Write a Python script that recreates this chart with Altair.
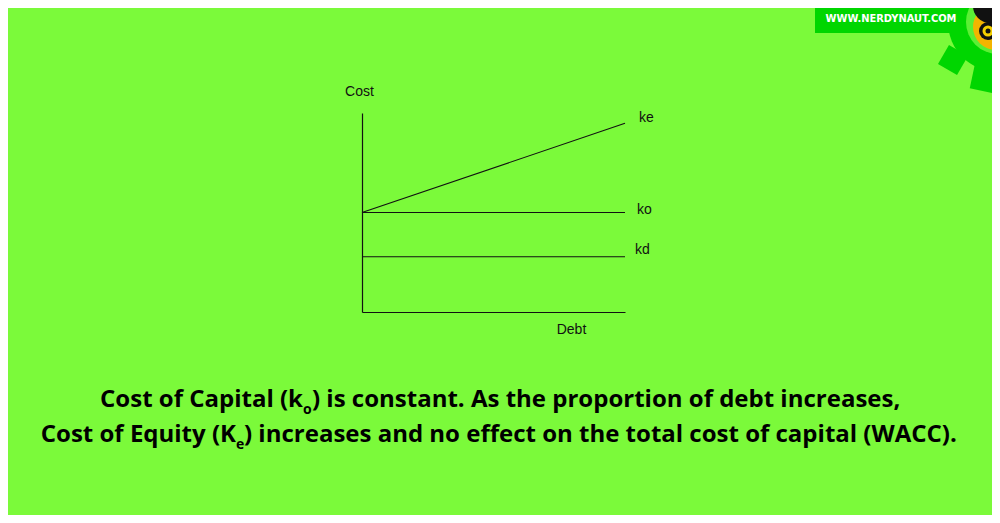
import altair as alt
import pandas as pd

# ---- data ----
debt = [0, 10]
ke = [5.0, 9.48]
ko = [5.0, 5.0]
kd = [2.78, 2.78]
series_names = ["ke", "ko", "kd"]
axis_titles = ["Cost", "Debt"]
caption1 = ["Cost of Capital (k", "o", ") is constant. As the proportion of debt increases,"]
caption2 = ["Cost of Equity (K", "e", ") increases and no effect on the total cost of capital (WACC)."]
site = "WWW.NERDYNAUT.COM"

BG = "#7BFA3A"
DARK = "#00D600"

rows = []
for name, vals in zip(series_names, [ke, ko, kd]):
    for d, c in zip(debt, vals):
        rows.append({"debt": d, "cost": c, "series": name})
df = pd.DataFrame(rows)

xs = alt.Scale(domain=[0, 10], nice=False, zero=False)
ys = alt.Scale(domain=[0, 10], nice=False, zero=False)

xaxis = alt.Axis(domain=True, domainColor="#111", domainWidth=1.2, ticks=False, labels=False,
                 grid=False, title=axis_titles[1], titleX=209, titleY=21, titleAlign="center",
                 titleBaseline="alphabetic", titleFont="Liberation Sans", titleFontSize=14,
                 titleFontWeight="normal", titleColor="#111")
yaxis = alt.Axis(domain=True, domainColor="#111", domainWidth=1.2, ticks=False, labels=False,
                 grid=False, title=axis_titles[0], titleAngle=0, titleX=-3, titleY=-18,
                 titleAlign="center", titleBaseline="alphabetic", titleFont="Liberation Sans",
                 titleFontSize=14, titleFontWeight="normal", titleColor="#111")

lines = alt.Chart(df).mark_line(color="#111", strokeWidth=1.1).encode(
    x=alt.X("debt:Q", scale=xs, axis=xaxis),
    y=alt.Y("cost:Q", scale=ys, axis=yaxis),
    detail="series:N",
)

label_offsets = {"ke": (14, -1), "ko": (12, 1), "kd": (10, -3)}
labels = []
for name in series_names:
    dx, dy = label_offsets[name]
    labels.append(
        alt.Chart(df).transform_filter(
            (alt.datum.series == name) & (alt.datum.debt == 10)
        ).mark_text(align="left", baseline="alphabetic", dx=dx, dy=dy, font="Liberation Sans",
                    fontSize=14, color="#111").encode(
            x=alt.X("debt:Q", scale=xs), y=alt.Y("cost:Q", scale=ys), text="series:N")
    )


def txt(s, x, y, **kw):
    return alt.Chart(pd.DataFrame({"t": [s]})).mark_text(**kw).encode(
        x=alt.value(x), y=alt.value(y), text="t:N")


cap_font = dict(font="Open Sans", fontWeight="bold", color="#000", baseline="alphabetic")
captions = [
    txt(caption1[0], -59, 294, align="right", fontSize=24, **cap_font),
    txt(caption1[1], -59, 301, align="left", fontSize=14, **cap_font),
    txt(caption1[2], -50, 294, align="left", fontSize=24, **cap_font),
    txt(caption2[0], -126, 329, align="right", fontSize=24, **cap_font),
    txt(caption2[1], -126, 336, align="left", fontSize=14, **cap_font),
    txt(caption2[2], -118, 329, align="left", fontSize=24, **cap_font),
]


def dot(x, y, size, color, shape="circle", angle=0):
    return alt.Chart(pd.DataFrame({"a": [0]})).mark_point(
        shape=shape, filled=True, size=size, color=color, opacity=1, angle=angle
    ).encode(x=alt.value(x), y=alt.value(y))


# logo (decoration) - coordinates relative to plot origin (page 362,113)
ox, oy = 362, 113
banner = alt.Chart(pd.DataFrame({"a": [0]})).mark_rect(color=DARK).encode(
    x=alt.value(815 - ox), x2=alt.value(985 - ox), y=alt.value(-20 - oy), y2=alt.value(33 - oy))
gear = [
    dot(998 - ox, 22 - oy, 100 ** 2, DARK),
    dot(953 - ox, 60 - oy, 22 ** 2, DARK, shape="square", angle=30),
    dot(984 - ox, 79 - oy, 24 ** 2, DARK, shape="square", angle=12),
    dot(998 - ox, 22 - oy, 64 ** 2, "#5BEF34"),
    dot(996 - ox, 27 - oy, 46 ** 2, "#F4B400"),
    dot(990 - ox, 6 - oy, 34 ** 2, "#111"),
    dot(988 - ox, 31 - oy, 18 ** 2, "#111"),
    dot(988 - ox, 31 - oy, 11 ** 2, "#F4D000"),
    dot(988 - ox, 31 - oy, 5 ** 2, "#111"),
]
site_text = txt(site, 891 - ox, 22 - oy, align="center", font="DejaVu Sans Condensed",
                fontWeight="bold", fontSize=11, color="#FFFFFF", baseline="alphabetic")

chart = alt.layer(
    banner, *gear, site_text, lines, *labels, *captions
).properties(
    width=263, height=199,
    padding={"left": 354, "top": 105, "right": 367, "bottom": 203},
    autosize="none",
    background=BG,
).configure_view(stroke=None)

chart.save("out.html", embed_options={"renderer": "svg", "actions": False})
